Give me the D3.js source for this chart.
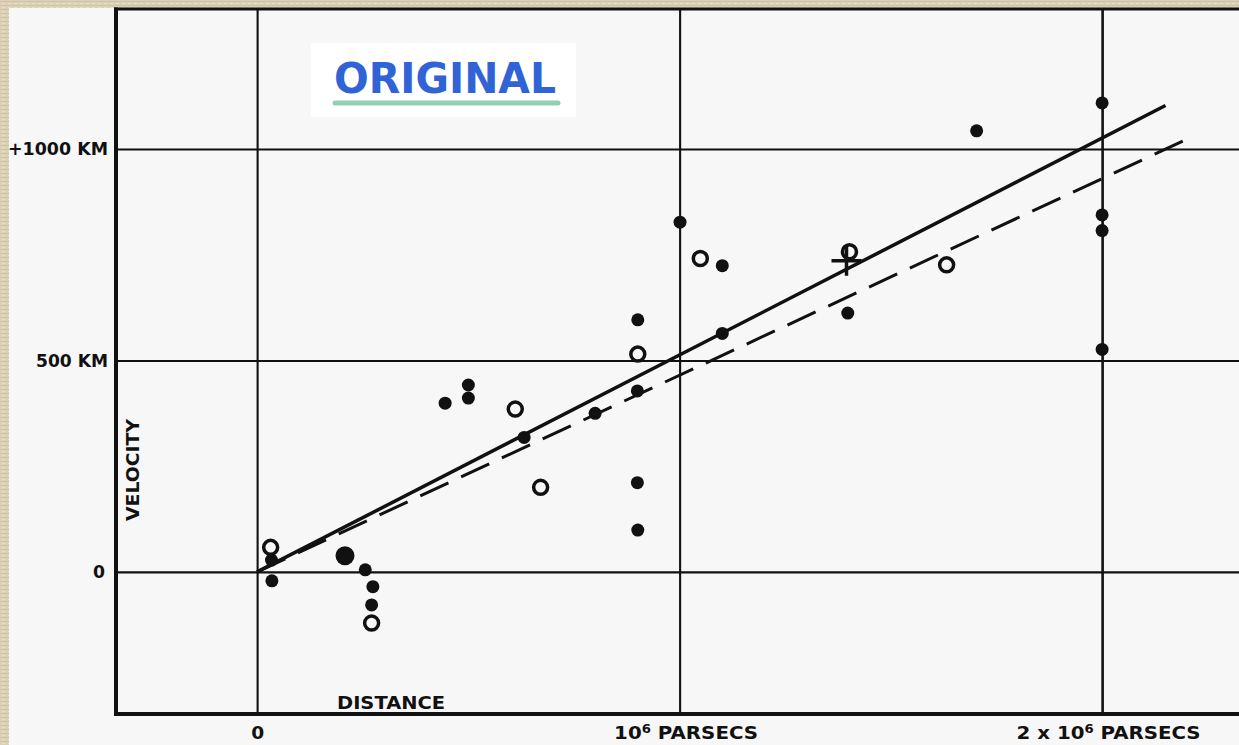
<!DOCTYPE html>
<html>
<head>
<meta charset="utf-8">
<script src="https://cdn.jsdelivr.net/npm/d3@7"></script>
<style>
  html, body { margin: 0; padding: 0; background: #dcd1b6; }
  svg { display: block; }
</style>
</head>
<body>
<svg id="chart" width="1239" height="745"></svg>
<script>
// Velocity–distance relation among extra-galactic nebulae.
// Distances in units of 10^6 parsecs, velocities in km/s.

// Individual nebulae (filled dots)
const nebulaDistance = [0.035, 0.034, 0.256, 0.274, 0.271, 0.445, 0.500, 0.500, 0.632, 0.800,
                        0.900, 0.900, 0.901, 0.901, 1.001, 1.101, 1.101, 1.398, 1.703,
                        2.000, 2.000, 2.000, 2.000];
const nebulaVelocity = [-21, 28, 5, -35, -78, 399, 442, 411, 318, 375,
                        428, 211, 596, 99, 827, 724, 564, 612, 1043,
                        1109, 844, 807, 526];

// Close pair plotted as one heavy dot
const pairDistance = [0.208];
const pairVelocity = [38];

// Nebulae combined into groups (open circles)
const groupDistance = [0.032, 0.271, 0.611, 0.671, 0.901, 1.049, 1.402, 1.632];
const groupVelocity = [58, -121, 385, 200, 515, 741, 757, 726];

// Mean of the nebulae whose distances could not be estimated individually (cross)
const meanDistance = [1.395];
const meanVelocity = [736];

// Fitted relations: velocity = K * distance
const individualK = 513;            // solid line
const individualRange = [0, 2.15];
const groupK = 465;                 // dashed line
const groupRange = [0, 2.22];

// Axes
const distanceTicks = [0, 1, 2];
const distanceTickLabels = [["0", "", ""], ["10", "6", " PARSECS"], ["2 x 10", "6", " PARSECS"]];
const velocityTicks = [0, 500, 1000];
const velocityTickLabels = ["0", "500 KM", "+1000 KM"];
const distanceDomain = [-0.334, 2.324];
const velocityDomain = [-336, 1331];

const svg = d3.select("#chart");
const W = 1239, H = 745;
const plot = { left: 116, top: 9, right: 1239, bottom: 714 };
const ink = "#111";
const labelFont = "'DejaVu Sans', 'Liberation Sans', sans-serif";

// Textured paper behind the sheet
const defs = svg.append("defs");
const pat = defs.append("pattern")
  .attr("id", "paper").attr("patternUnits", "userSpaceOnUse")
  .attr("width", 6).attr("height", 4);
pat.append("rect").attr("width", 6).attr("height", 4).attr("fill", "#dcd1b6");
pat.append("rect").attr("x", 0).attr("y", 1).attr("width", 6).attr("height", 1).attr("fill", "#cfc3a6");
pat.append("rect").attr("x", 2).attr("y", 3).attr("width", 3).attr("height", 1).attr("fill", "#e8dfc8");
svg.append("rect").attr("width", W).attr("height", H).attr("fill", "url(#paper)");

// Sheet
svg.append("rect").attr("x", 9).attr("y", 8).attr("width", W - 9).attr("height", H - 8).attr("fill", "#f7f7f7");

const x = d3.scaleLinear().domain(distanceDomain).range([plot.left, plot.right]);
const y = d3.scaleLinear().domain(velocityDomain).range([plot.bottom, plot.top]);

// Grid lines
const gx = svg.append("g")
  .attr("transform", `translate(0,${plot.bottom})`)
  .call(d3.axisBottom(x).tickValues(distanceTicks).tickSize(-(plot.bottom - plot.top)).tickFormat(""));
gx.select(".domain").remove();
gx.selectAll(".tick line").attr("stroke", ink).attr("stroke-width", (d) => d === 2 ? 2.6 : 2.1);

const gy = svg.append("g")
  .attr("transform", `translate(${plot.left},0)`)
  .call(d3.axisLeft(y).tickValues(velocityTicks).tickSize(-(plot.right - plot.left)).tickFormat(""));
gy.select(".domain").remove();
gy.selectAll(".tick line").attr("stroke", ink).attr("stroke-width", 2.1);

// Frame: heavy left, bottom and top rules
svg.append("line").attr("x1", plot.left).attr("x2", plot.left).attr("y1", plot.top - 1.5).attr("y2", plot.bottom + 2)
  .attr("stroke", ink).attr("stroke-width", 4);
svg.append("line").attr("x1", plot.left - 2).attr("x2", plot.right).attr("y1", plot.bottom).attr("y2", plot.bottom)
  .attr("stroke", ink).attr("stroke-width", 4);
svg.append("line").attr("x1", plot.left - 2).attr("x2", plot.right).attr("y1", plot.top).attr("y2", plot.top)
  .attr("stroke", ink).attr("stroke-width", 3);

// Velocity tick labels
const yLabelWidths = [12, 72, 100];
const ay = svg.append("g")
  .attr("transform", `translate(${plot.left},0)`)
  .call(d3.axisLeft(y).tickValues(velocityTicks).tickSize(0).tickPadding(8)
    .tickFormat((d, i) => velocityTickLabels[i]));
ay.select(".domain").remove();
ay.selectAll(".tick text")
  .attr("font-family", labelFont).attr("font-weight", "bold").attr("font-size", 18)
  .attr("fill", ink)
  .attr("textLength", (d, i) => yLabelWidths[i]).attr("lengthAdjust", "spacingAndGlyphs");
ay.selectAll(".tick").filter((d) => d === 0).select("text").attr("dx", -3);

// Distance tick labels, with a raised exponent
const xLabelWidths = [13, 144, 184];
const ax = svg.append("g")
  .attr("transform", `translate(0,${plot.bottom})`)
  .call(d3.axisBottom(x).tickValues(distanceTicks).tickSize(0).tickPadding(12).tickFormat(""));
ax.select(".domain").remove();
ax.selectAll(".tick text")
  .attr("font-family", labelFont).attr("font-weight", "bold").attr("font-size", 18)
  .attr("fill", ink)
  .attr("dx", (d) => d === 0 ? 0 : 6)
  .attr("textLength", (d, i) => xLabelWidths[i]).attr("lengthAdjust", "spacingAndGlyphs")
  .each(function (d, i) {
    const t = d3.select(this);
    const parts = distanceTickLabels[i];
    t.append("tspan").text(parts[0]);
    if (parts[1]) {
      t.append("tspan").attr("font-size", 12).attr("dy", -6).text(parts[1]);
      t.append("tspan").attr("dy", 6).text(parts[2]);
    }
  });

// Axis titles
svg.append("text")
  .attr("x", 391).attr("y", 709).attr("text-anchor", "middle")
  .attr("font-family", labelFont).attr("font-weight", "bold").attr("font-size", 18).attr("fill", ink)
  .attr("textLength", 108).attr("lengthAdjust", "spacingAndGlyphs")
  .text("DISTANCE");
svg.append("text")
  .attr("transform", "translate(139,470) rotate(-90)")
  .attr("text-anchor", "middle")
  .attr("font-family", labelFont).attr("font-weight", "bold").attr("font-size", 17).attr("fill", ink)
  .attr("textLength", 102).attr("lengthAdjust", "spacingAndGlyphs")
  .text("VELOCITY");

// Fitted lines
const line = d3.line().x((d) => x(d[0])).y((d) => y(d[1]));
svg.append("path")
  .datum(groupRange.map((d) => [d, groupK * d]))
  .attr("d", line).attr("fill", "none").attr("stroke", ink)
  .attr("stroke-width", 3).attr("stroke-dasharray", "31,14");
svg.append("path")
  .datum(individualRange.map((d) => [d, individualK * d]))
  .attr("d", line).attr("fill", "none").attr("stroke", ink)
  .attr("stroke-width", 3.5);

// Individual nebulae
svg.append("g").selectAll("circle")
  .data(d3.zip(nebulaDistance, nebulaVelocity))
  .join("circle")
  .attr("cx", (d) => x(d[0])).attr("cy", (d) => y(d[1]))
  .attr("r", 6.5).attr("fill", ink);

svg.append("g").selectAll("circle")
  .data(d3.zip(pairDistance, pairVelocity))
  .join("circle")
  .attr("cx", (d) => x(d[0])).attr("cy", (d) => y(d[1]))
  .attr("r", 9.5).attr("fill", ink);

// Groups
svg.append("g").selectAll("circle")
  .data(d3.zip(groupDistance, groupVelocity))
  .join("circle")
  .attr("cx", (d) => x(d[0])).attr("cy", (d) => y(d[1]))
  .attr("r", 7).attr("fill", "#f7f7f7").attr("stroke", ink).attr("stroke-width", 3.5);

// Mean point, drawn as a plus sign
svg.append("g").selectAll("path")
  .data(d3.zip(meanDistance, meanVelocity))
  .join("path")
  .attr("d", (d) => {
    const cx = x(d[0]), cy = y(d[1]), a = 15;
    return `M${cx - a},${cy}H${cx + a}M${cx},${cy - a}V${cy + a}`;
  })
  .attr("fill", "none").attr("stroke", ink).attr("stroke-width", 3.5);

// Stamp
const stamp = svg.append("g");
stamp.append("rect").attr("x", 311).attr("y", 43).attr("width", 265).attr("height", 74).attr("fill", "#ffffff");
stamp.append("line").attr("x1", 335).attr("x2", 558).attr("y1", 103).attr("y2", 103)
  .attr("stroke", "#93cfb1").attr("stroke-width", 5).attr("stroke-linecap", "round");
stamp.append("text")
  .attr("x", 445).attr("y", 93).attr("text-anchor", "middle")
  .attr("font-family", labelFont).attr("font-weight", "bold").attr("font-size", 42)
  .attr("fill", "#2f63d6")
  .attr("textLength", 222).attr("lengthAdjust", "spacingAndGlyphs")
  .text("ORIGINAL");
</script>
</body>
</html>
